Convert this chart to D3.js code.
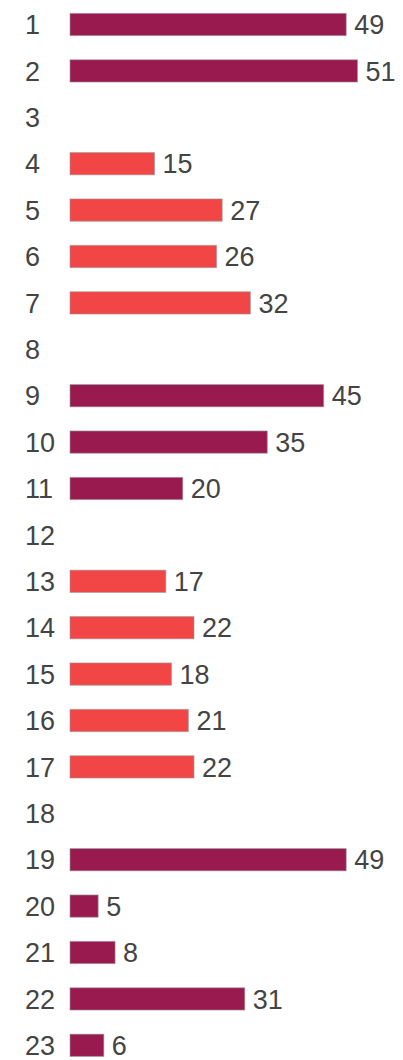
<!DOCTYPE html>
<html><head><meta charset="utf-8">
<script src="https://cdn.jsdelivr.net/npm/d3@7"></script>
<style>body{margin:0;background:#fff;}svg{display:block;}</style>
</head><body>
<svg id="c" width="403" height="1060"></svg>
<script>
const categories = ["1","2","3","4","5","6","7","8","9","10","11","12","13","14","15","16","17","18","19","20","21","22","23"];
const values = [49,51,null,15,27,26,32,null,45,35,20,null,17,22,18,21,22,null,49,5,8,31,6];
const groups = ["a","a",null,"b","b","b","b",null,"a","a","a",null,"b","b","b","b","b",null,"a","a","a","a","a"];
const colors = {a:"#991a4f", b:"#f24545"};

const svg = d3.select("#c");
const x = d3.scaleLinear().domain([0,51]).range([70,357.5]);
const y = d3.scaleBand().domain(categories).range([1.3,1068.5]).paddingInner(0.52).paddingOuter(0.26);

const data = categories.map((c,i)=>({c, v:values[i], g:groups[i]}));
const font = "Liberation Sans, Arial, sans-serif";

svg.selectAll("text.cat").data(data).join("text")
  .attr("class","cat")
  .attr("x",25)
  .attr("y",d=>y(d.c)+y.bandwidth()/2)
  .attr("dy","0.36em")
  .attr("font-family",font)
  .attr("font-size",27)
  .attr("fill","#444")
  .text(d=>d.c);

const bars = data.filter(d=>d.v!=null);
svg.selectAll("rect.bar").data(bars).join("rect")
  .attr("class","bar")
  .attr("x",x(0))
  .attr("y",d=>y(d.c))
  .attr("width",d=>x(d.v)-x(0))
  .attr("height",y.bandwidth())
  .attr("fill",d=>colors[d.g])
  .attr("stroke","#9a9a9a")
  .attr("stroke-opacity",0.6)
  .attr("stroke-width",1);

svg.selectAll("text.val").data(bars).join("text")
  .attr("class","val")
  .attr("x",d=>x(d.v)+8)
  .attr("y",d=>y(d.c)+y.bandwidth()/2)
  .attr("dy","0.36em")
  .attr("font-family",font)
  .attr("font-size",27)
  .attr("fill","#444")
  .text(d=>d.v);
</script>
</body></html>
